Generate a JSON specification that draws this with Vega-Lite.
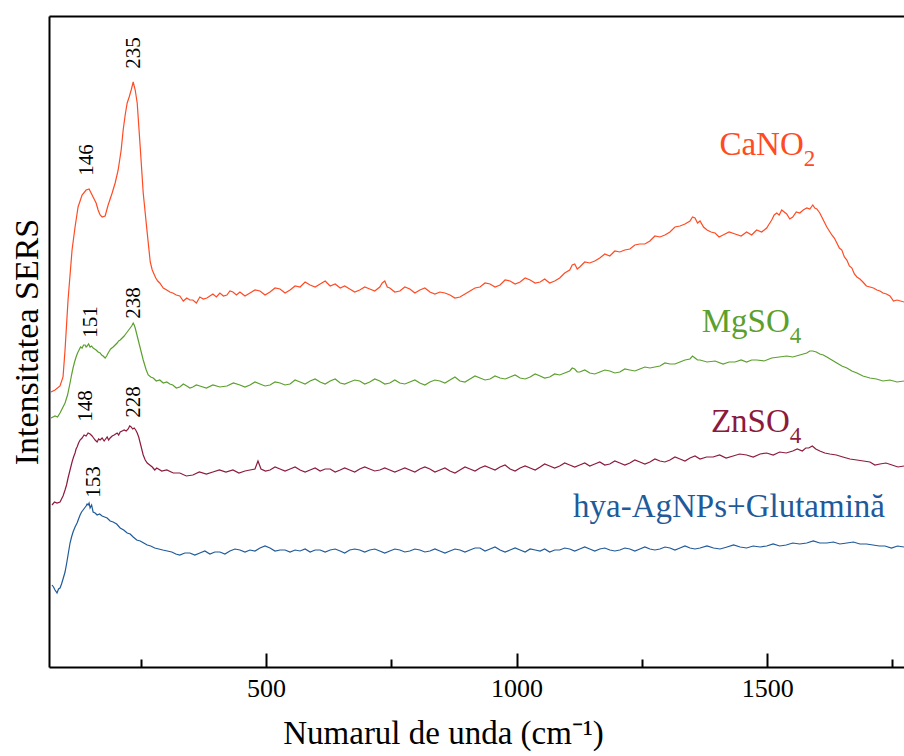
{
"$schema": "https://vega.github.io/schema/vega-lite/v6.json",
"autosize": {"type": "none"},
"padding": {"left": 49, "top": 16, "right": 0, "bottom": 89},
"width": 855,
"height": 651,
"config": {"view": {"stroke": null}, "font": "Liberation Serif", "text": {"font": "Liberation Serif"}, "axis": {"labelFont": "Liberation Serif", "titleFont": "Liberation Serif"}},
"datasets": {
"ca": [{"x":71,"y":275},{"x":79,"y":277},{"x":89,"y":281},{"x":95,"y":290},{"x":99,"y":317},{"x":105,"y":367},{"x":113,"y":417},{"x":119,"y":440},{"x":125,"y":460},{"x":133,"y":472},{"x":141,"y":477},{"x":147,"y":478},{"x":155,"y":470},{"x":161,"y":464},{"x":165,"y":457},{"x":169,"y":452},{"x":173,"y":450},{"x":179,"y":451},{"x":185,"y":462},{"x":193,"y":474},{"x":199,"y":484},{"x":205,"y":497},{"x":211,"y":517},{"x":215,"y":537},{"x":219,"y":552},{"x":223,"y":564},{"x":227,"y":570},{"x":231,"y":577},{"x":235,"y":585},{"x":239,"y":577},{"x":243,"y":564},{"x":249,"y":520},{"x":255,"y":474},{"x":263,"y":434},{"x":269,"y":405},{"x":273,"y":397},{"x":280,"y":389},{"x":284,"y":386},{"x":288,"y":384},{"x":295,"y":379},{"x":302,"y":377},{"x":308,"y":375},{"x":314,"y":374},{"x":321,"y":372},{"x":328,"y":371},{"x":335,"y":366},{"x":342,"y":369},{"x":348,"y":367},{"x":354,"y":367},{"x":361,"y":364},{"x":368,"y":370},{"x":375,"y":368},{"x":382,"y":369},{"x":388,"y":371},{"x":394,"y":373},{"x":401,"y":370},{"x":408,"y":374},{"x":415,"y":371},{"x":422,"y":372},{"x":428,"y":376},{"x":434,"y":375},{"x":441,"y":372},{"x":448,"y":375},{"x":458,"y":371},{"x":468,"y":374},{"x":478,"y":377},{"x":488,"y":376},{"x":498,"y":372},{"x":508,"y":375},{"x":518,"y":379},{"x":528,"y":378},{"x":538,"y":374},{"x":548,"y":377},{"x":558,"y":381},{"x":568,"y":380},{"x":578,"y":385},{"x":588,"y":382},{"x":598,"y":380},{"x":608,"y":383},{"x":618,"y":386},{"x":628,"y":381},{"x":638,"y":383},{"x":648,"y":379},{"x":657,"y":381},{"x":667,"y":378},{"x":677,"y":375},{"x":687,"y":377},{"x":697,"y":380},{"x":707,"y":378},{"x":717,"y":376},{"x":727,"y":380},{"x":732,"y":384},{"x":737,"y":386},{"x":742,"y":380},{"x":747,"y":379},{"x":757,"y":375},{"x":767,"y":376},{"x":777,"y":380},{"x":787,"y":378},{"x":797,"y":374},{"x":807,"y":377},{"x":817,"y":379},{"x":827,"y":375},{"x":837,"y":373},{"x":847,"y":375},{"x":857,"y":374},{"x":867,"y":372},{"x":877,"y":369},{"x":887,"y":370},{"x":897,"y":373},{"x":907,"y":376},{"x":917,"y":379},{"x":927,"y":380},{"x":937,"y":384},{"x":947,"y":383},{"x":957,"y":380},{"x":967,"y":382},{"x":977,"y":387},{"x":987,"y":386},{"x":997,"y":383},{"x":1007,"y":385},{"x":1017,"y":389},{"x":1027,"y":387},{"x":1037,"y":384},{"x":1047,"y":385},{"x":1056,"y":388},{"x":1066,"y":384},{"x":1076,"y":386},{"x":1086,"y":389},{"x":1096,"y":394},{"x":1106,"y":397},{"x":1111,"y":402},{"x":1116,"y":403},{"x":1121,"y":398},{"x":1126,"y":400},{"x":1136,"y":405},{"x":1146,"y":404},{"x":1156,"y":406},{"x":1166,"y":409},{"x":1176,"y":413},{"x":1186,"y":411},{"x":1196,"y":416},{"x":1206,"y":415},{"x":1216,"y":417},{"x":1226,"y":418},{"x":1236,"y":422},{"x":1246,"y":423},{"x":1256,"y":423},{"x":1266,"y":426},{"x":1276,"y":431},{"x":1286,"y":430},{"x":1296,"y":432},{"x":1306,"y":435},{"x":1316,"y":440},{"x":1326,"y":441},{"x":1336,"y":443},{"x":1346,"y":446},{"x":1351,"y":450},{"x":1356,"y":449},{"x":1361,"y":444},{"x":1366,"y":446},{"x":1373,"y":440},{"x":1380,"y":437},{"x":1388,"y":435},{"x":1396,"y":434},{"x":1404,"y":430},{"x":1412,"y":432},{"x":1424,"y":435},{"x":1436,"y":433},{"x":1448,"y":431},{"x":1459,"y":435},{"x":1469,"y":432},{"x":1479,"y":437},{"x":1489,"y":435},{"x":1499,"y":439},{"x":1504,"y":443},{"x":1509,"y":447},{"x":1514,"y":452},{"x":1519,"y":454},{"x":1524,"y":452},{"x":1529,"y":457},{"x":1534,"y":455},{"x":1539,"y":453},{"x":1545,"y":448},{"x":1551,"y":450},{"x":1558,"y":455},{"x":1565,"y":454},{"x":1572,"y":457},{"x":1579,"y":459},{"x":1585,"y":458},{"x":1591,"y":462},{"x":1595,"y":459},{"x":1599,"y":458},{"x":1605,"y":454},{"x":1612,"y":447},{"x":1619,"y":440},{"x":1624,"y":436},{"x":1629,"y":432},{"x":1634,"y":429},{"x":1639,"y":424},{"x":1644,"y":419},{"x":1649,"y":417},{"x":1654,"y":410},{"x":1659,"y":407},{"x":1664,"y":401},{"x":1669,"y":399},{"x":1674,"y":393},{"x":1679,"y":390},{"x":1685,"y":388},{"x":1691,"y":385},{"x":1698,"y":381},{"x":1705,"y":380},{"x":1712,"y":379},{"x":1719,"y":377},{"x":1725,"y":376},{"x":1731,"y":374},{"x":1738,"y":373},{"x":1745,"y":371},{"x":1752,"y":366},{"x":1759,"y":367},{"x":1766,"y":366},{"x":1773,"y":365}],
"mg": [{"x":71,"y":249},{"x":79,"y":251},{"x":84,"y":250},{"x":89,"y":254},{"x":94,"y":259},{"x":99,"y":264},{"x":104,"y":272},{"x":109,"y":284},{"x":112,"y":292},{"x":115,"y":299},{"x":118,"y":305},{"x":121,"y":310},{"x":124,"y":314},{"x":127,"y":317},{"x":130,"y":320},{"x":133,"y":319},{"x":136,"y":322},{"x":139,"y":322},{"x":141,"y":320},{"x":143,"y":321},{"x":146,"y":323},{"x":149,"y":320},{"x":152,"y":321},{"x":155,"y":319},{"x":158,"y":318},{"x":161,"y":317},{"x":165,"y":315},{"x":169,"y":314},{"x":172,"y":312},{"x":175,"y":311},{"x":179,"y":309},{"x":182,"y":311},{"x":185,"y":314},{"x":190,"y":318},{"x":195,"y":320},{"x":199,"y":322},{"x":203,"y":324},{"x":206,"y":326},{"x":209,"y":327},{"x":213,"y":329},{"x":217,"y":331},{"x":220,"y":333},{"x":223,"y":335},{"x":226,"y":337},{"x":229,"y":339},{"x":232,"y":341},{"x":235,"y":344},{"x":237,"y":342},{"x":239,"y":339},{"x":242,"y":333},{"x":245,"y":327},{"x":248,"y":321},{"x":251,"y":315},{"x":255,"y":307},{"x":258,"y":302},{"x":261,"y":297},{"x":265,"y":292},{"x":270,"y":290},{"x":275,"y":289},{"x":281,"y":286},{"x":288,"y":287},{"x":295,"y":284},{"x":302,"y":285},{"x":308,"y":283},{"x":314,"y":282},{"x":321,"y":279},{"x":328,"y":280},{"x":335,"y":283},{"x":342,"y":281},{"x":348,"y":279},{"x":354,"y":280},{"x":361,"y":282},{"x":368,"y":281},{"x":381,"y":279},{"x":394,"y":282},{"x":408,"y":280},{"x":422,"y":281},{"x":435,"y":284},{"x":448,"y":282},{"x":458,"y":280},{"x":468,"y":282},{"x":478,"y":285},{"x":488,"y":283},{"x":498,"y":281},{"x":508,"y":282},{"x":518,"y":285},{"x":528,"y":284},{"x":538,"y":282},{"x":548,"y":283},{"x":558,"y":287},{"x":568,"y":285},{"x":578,"y":283},{"x":588,"y":286},{"x":598,"y":288},{"x":608,"y":285},{"x":618,"y":283},{"x":628,"y":286},{"x":638,"y":288},{"x":648,"y":284},{"x":657,"y":283},{"x":667,"y":285},{"x":677,"y":287},{"x":687,"y":286},{"x":697,"y":283},{"x":707,"y":285},{"x":717,"y":288},{"x":727,"y":286},{"x":737,"y":283},{"x":747,"y":284},{"x":757,"y":287},{"x":767,"y":284},{"x":777,"y":283},{"x":787,"y":285},{"x":797,"y":287},{"x":807,"y":284},{"x":817,"y":282},{"x":827,"y":285},{"x":837,"y":287},{"x":847,"y":286},{"x":857,"y":284},{"x":867,"y":287},{"x":877,"y":290},{"x":887,"y":286},{"x":897,"y":285},{"x":907,"y":288},{"x":917,"y":291},{"x":927,"y":289},{"x":937,"y":287},{"x":947,"y":288},{"x":957,"y":291},{"x":967,"y":289},{"x":977,"y":288},{"x":987,"y":290},{"x":997,"y":292},{"x":1007,"y":289},{"x":1017,"y":288},{"x":1027,"y":290},{"x":1037,"y":293},{"x":1047,"y":291},{"x":1056,"y":289},{"x":1066,"y":290},{"x":1076,"y":293},{"x":1086,"y":292},{"x":1096,"y":294},{"x":1106,"y":296},{"x":1111,"y":299},{"x":1116,"y":298},{"x":1121,"y":295},{"x":1126,"y":295},{"x":1136,"y":297},{"x":1146,"y":294},{"x":1156,"y":293},{"x":1166,"y":295},{"x":1176,"y":297},{"x":1186,"y":296},{"x":1196,"y":294},{"x":1206,"y":295},{"x":1216,"y":298},{"x":1226,"y":297},{"x":1236,"y":296},{"x":1246,"y":298},{"x":1256,"y":300},{"x":1266,"y":299},{"x":1276,"y":300},{"x":1286,"y":301},{"x":1296,"y":304},{"x":1306,"y":303},{"x":1316,"y":303},{"x":1326,"y":305},{"x":1336,"y":307},{"x":1346,"y":308},{"x":1351,"y":311},{"x":1356,"y":309},{"x":1361,"y":307},{"x":1366,"y":307},{"x":1380,"y":305},{"x":1396,"y":306},{"x":1412,"y":303},{"x":1424,"y":305},{"x":1436,"y":305},{"x":1448,"y":307},{"x":1459,"y":305},{"x":1469,"y":307},{"x":1479,"y":307},{"x":1494,"y":306},{"x":1509,"y":309},{"x":1524,"y":310},{"x":1539,"y":311},{"x":1551,"y":310},{"x":1565,"y":312},{"x":1572,"y":313},{"x":1579,"y":314},{"x":1585,"y":316},{"x":1591,"y":316},{"x":1598,"y":315},{"x":1605,"y":313},{"x":1612,"y":312},{"x":1619,"y":310},{"x":1629,"y":307},{"x":1639,"y":304},{"x":1649,"y":301},{"x":1659,"y":299},{"x":1669,"y":296},{"x":1679,"y":294},{"x":1691,"y":291},{"x":1705,"y":289},{"x":1718,"y":288},{"x":1731,"y":286},{"x":1745,"y":287},{"x":1759,"y":285},{"x":1773,"y":286}],
"zn": [{"x":73,"y":162},{"x":78,"y":165},{"x":83,"y":164},{"x":89,"y":165},{"x":92,"y":168},{"x":95,"y":171},{"x":99,"y":177},{"x":102,"y":182},{"x":105,"y":189},{"x":109,"y":197},{"x":113,"y":205},{"x":116,"y":210},{"x":119,"y":214},{"x":121,"y":218},{"x":123,"y":220},{"x":126,"y":224},{"x":129,"y":227},{"x":133,"y":229},{"x":137,"y":232},{"x":141,"y":231},{"x":145,"y":234},{"x":149,"y":233},{"x":153,"y":231},{"x":156,"y":229},{"x":159,"y":227},{"x":163,"y":225},{"x":166,"y":228},{"x":169,"y":227},{"x":173,"y":229},{"x":177,"y":226},{"x":180,"y":228},{"x":183,"y":230},{"x":186,"y":227},{"x":189,"y":229},{"x":193,"y":231},{"x":197,"y":232},{"x":200,"y":233},{"x":203,"y":234},{"x":206,"y":232},{"x":209,"y":235},{"x":213,"y":236},{"x":217,"y":237},{"x":221,"y":236},{"x":225,"y":238},{"x":228,"y":241},{"x":231,"y":240},{"x":234,"y":238},{"x":237,"y":239},{"x":240,"y":237},{"x":243,"y":234},{"x":246,"y":230},{"x":249,"y":224},{"x":252,"y":218},{"x":255,"y":212},{"x":259,"y":207},{"x":263,"y":204},{"x":268,"y":202},{"x":273,"y":200},{"x":278,"y":197},{"x":282,"y":199},{"x":292,"y":196},{"x":302,"y":197},{"x":315,"y":194},{"x":328,"y":194},{"x":341,"y":191},{"x":354,"y":192},{"x":367,"y":195},{"x":381,"y":193},{"x":394,"y":195},{"x":407,"y":197},{"x":420,"y":195},{"x":434,"y":197},{"x":446,"y":194},{"x":458,"y":196},{"x":468,"y":197},{"x":478,"y":198},{"x":484,"y":206},{"x":490,"y":198},{"x":499,"y":196},{"x":508,"y":197},{"x":518,"y":200},{"x":528,"y":198},{"x":538,"y":196},{"x":548,"y":198},{"x":558,"y":200},{"x":568,"y":197},{"x":578,"y":195},{"x":588,"y":197},{"x":598,"y":199},{"x":608,"y":196},{"x":618,"y":198},{"x":628,"y":198},{"x":638,"y":195},{"x":648,"y":197},{"x":657,"y":199},{"x":667,"y":197},{"x":677,"y":195},{"x":687,"y":198},{"x":697,"y":200},{"x":707,"y":198},{"x":717,"y":196},{"x":727,"y":197},{"x":737,"y":199},{"x":747,"y":197},{"x":757,"y":195},{"x":767,"y":197},{"x":777,"y":199},{"x":787,"y":197},{"x":797,"y":195},{"x":807,"y":198},{"x":817,"y":200},{"x":827,"y":198},{"x":837,"y":195},{"x":847,"y":197},{"x":857,"y":199},{"x":867,"y":196},{"x":877,"y":194},{"x":887,"y":197},{"x":897,"y":200},{"x":907,"y":198},{"x":917,"y":196},{"x":927,"y":199},{"x":937,"y":201},{"x":947,"y":199},{"x":957,"y":197},{"x":967,"y":200},{"x":977,"y":202},{"x":987,"y":198},{"x":997,"y":196},{"x":1007,"y":199},{"x":1017,"y":201},{"x":1027,"y":199},{"x":1037,"y":197},{"x":1047,"y":200},{"x":1056,"y":203},{"x":1066,"y":201},{"x":1076,"y":199},{"x":1086,"y":201},{"x":1096,"y":204},{"x":1106,"y":202},{"x":1116,"y":200},{"x":1126,"y":202},{"x":1136,"y":204},{"x":1146,"y":201},{"x":1156,"y":203},{"x":1166,"y":205},{"x":1176,"y":202},{"x":1186,"y":203},{"x":1196,"y":206},{"x":1206,"y":204},{"x":1216,"y":202},{"x":1226,"y":204},{"x":1236,"y":207},{"x":1246,"y":205},{"x":1256,"y":203},{"x":1266,"y":205},{"x":1276,"y":208},{"x":1286,"y":206},{"x":1296,"y":205},{"x":1306,"y":207},{"x":1316,"y":210},{"x":1326,"y":208},{"x":1336,"y":206},{"x":1346,"y":209},{"x":1356,"y":211},{"x":1366,"y":208},{"x":1379,"y":210},{"x":1392,"y":210},{"x":1405,"y":212},{"x":1418,"y":209},{"x":1432,"y":211},{"x":1445,"y":213},{"x":1459,"y":212},{"x":1472,"y":210},{"x":1486,"y":213},{"x":1499,"y":214},{"x":1512,"y":212},{"x":1525,"y":215},{"x":1538,"y":214},{"x":1551,"y":216},{"x":1560,"y":218},{"x":1570,"y":216},{"x":1577,"y":219},{"x":1583,"y":219},{"x":1590,"y":221},{"x":1597,"y":218},{"x":1605,"y":216},{"x":1615,"y":214},{"x":1625,"y":213},{"x":1638,"y":212},{"x":1651,"y":210},{"x":1665,"y":208},{"x":1679,"y":207},{"x":1692,"y":206},{"x":1705,"y":205},{"x":1715,"y":202},{"x":1725,"y":203},{"x":1737,"y":204},{"x":1749,"y":202},{"x":1761,"y":200},{"x":1773,"y":201}],
"hy": [{"x":73,"y":82},{"x":76,"y":80},{"x":79,"y":77},{"x":83,"y":74},{"x":86,"y":78},{"x":89,"y":79},{"x":92,"y":83},{"x":95,"y":88},{"x":99,"y":95},{"x":102,"y":103},{"x":105,"y":112},{"x":109,"y":124},{"x":112,"y":130},{"x":115,"y":135},{"x":119,"y":140},{"x":123,"y":144},{"x":126,"y":148},{"x":129,"y":152},{"x":132,"y":155},{"x":135,"y":157},{"x":138,"y":159},{"x":141,"y":161},{"x":143,"y":163},{"x":145,"y":162},{"x":147,"y":164},{"x":149,"y":159},{"x":152,"y":162},{"x":155,"y":155},{"x":159,"y":154},{"x":163,"y":152},{"x":168,"y":153},{"x":173,"y":151},{"x":178,"y":150},{"x":183,"y":149},{"x":189,"y":146},{"x":195,"y":145},{"x":202,"y":143},{"x":209,"y":139},{"x":216,"y":137},{"x":223,"y":134},{"x":229,"y":133},{"x":235,"y":130},{"x":242,"y":127},{"x":249,"y":126},{"x":256,"y":124},{"x":263,"y":122},{"x":270,"y":121},{"x":278,"y":119},{"x":286,"y":118},{"x":294,"y":117},{"x":303,"y":116},{"x":312,"y":115},{"x":320,"y":113},{"x":328,"y":112},{"x":338,"y":114},{"x":348,"y":114},{"x":358,"y":112},{"x":368,"y":114},{"x":378,"y":116},{"x":388,"y":113},{"x":398,"y":115},{"x":408,"y":115},{"x":418,"y":113},{"x":428,"y":116},{"x":438,"y":118},{"x":448,"y":117},{"x":458,"y":115},{"x":468,"y":117},{"x":478,"y":116},{"x":488,"y":119},{"x":498,"y":121},{"x":508,"y":119},{"x":518,"y":116},{"x":528,"y":117},{"x":538,"y":117},{"x":548,"y":115},{"x":558,"y":117},{"x":568,"y":116},{"x":578,"y":118},{"x":588,"y":115},{"x":598,"y":117},{"x":608,"y":117},{"x":618,"y":115},{"x":628,"y":117},{"x":638,"y":118},{"x":648,"y":116},{"x":657,"y":114},{"x":667,"y":117},{"x":677,"y":118},{"x":687,"y":117},{"x":697,"y":115},{"x":707,"y":117},{"x":717,"y":118},{"x":727,"y":116},{"x":737,"y":114},{"x":747,"y":116},{"x":757,"y":118},{"x":767,"y":117},{"x":777,"y":115},{"x":787,"y":116},{"x":797,"y":118},{"x":807,"y":117},{"x":817,"y":115},{"x":827,"y":116},{"x":837,"y":118},{"x":847,"y":116},{"x":857,"y":114},{"x":867,"y":116},{"x":877,"y":118},{"x":887,"y":117},{"x":897,"y":115},{"x":907,"y":117},{"x":917,"y":119},{"x":927,"y":119},{"x":937,"y":116},{"x":947,"y":118},{"x":957,"y":120},{"x":967,"y":117},{"x":977,"y":115},{"x":987,"y":117},{"x":997,"y":119},{"x":1007,"y":117},{"x":1017,"y":115},{"x":1027,"y":118},{"x":1037,"y":117},{"x":1047,"y":116},{"x":1056,"y":118},{"x":1066,"y":115},{"x":1076,"y":117},{"x":1086,"y":117},{"x":1096,"y":119},{"x":1106,"y":118},{"x":1116,"y":116},{"x":1126,"y":118},{"x":1136,"y":120},{"x":1146,"y":118},{"x":1156,"y":116},{"x":1166,"y":118},{"x":1176,"y":119},{"x":1186,"y":117},{"x":1196,"y":116},{"x":1206,"y":117},{"x":1216,"y":119},{"x":1226,"y":118},{"x":1236,"y":116},{"x":1246,"y":118},{"x":1256,"y":120},{"x":1266,"y":118},{"x":1276,"y":117},{"x":1286,"y":118},{"x":1296,"y":120},{"x":1306,"y":119},{"x":1316,"y":117},{"x":1326,"y":119},{"x":1336,"y":121},{"x":1346,"y":119},{"x":1356,"y":118},{"x":1366,"y":119},{"x":1380,"y":121},{"x":1393,"y":119},{"x":1406,"y":118},{"x":1420,"y":120},{"x":1433,"y":122},{"x":1446,"y":120},{"x":1459,"y":119},{"x":1472,"y":121},{"x":1486,"y":120},{"x":1499,"y":121},{"x":1512,"y":123},{"x":1525,"y":121},{"x":1538,"y":122},{"x":1551,"y":124},{"x":1565,"y":123},{"x":1579,"y":124},{"x":1592,"y":126},{"x":1605,"y":124},{"x":1619,"y":124},{"x":1632,"y":125},{"x":1645,"y":123},{"x":1659,"y":124},{"x":1672,"y":125},{"x":1685,"y":123},{"x":1698,"y":123},{"x":1711,"y":122},{"x":1724,"y":121},{"x":1735,"y":121},{"x":1748,"y":119},{"x":1760,"y":121},{"x":1773,"y":120}],
"peaks": [{"x":142,"y":507,"t":"146"},{"x":237,"y":614,"t":"235"},{"x":150,"y":345,"t":"151"},{"x":237,"y":364,"t":"238"},{"x":141,"y":261,"t":"148"},{"x":237,"y":265,"t":"228"},{"x":157,"y":185,"t":"153"}],
"names": [{"x":1573,"y":512,"t":"CaNO","sub":"2","c":"CaNO2"},{"x":1545,"y":335,"t":"MgSO","sub":"4","c":"MgSO4"},{"x":1545,"y":235,"t":"ZnSO","sub":"4","c":"ZnSO4"},{"x":1735,"y":150,"t":"hya-AgNPs+Glutamină","sub":"","c":"hya"}]
},
"resolve": {"axis": {"x": "independent", "y": "independent"}},
"layer": [
{"data": {"name": "ca"}, "mark": {"type": "line", "color": "#FF4A23", "strokeWidth": 1.2},
 "encoding": {
  "x": {"field": "x", "type": "quantitative", "scale": {"domain": [67, 1773], "nice": false, "zero": false},
   "axis": {"orient": "bottom", "offset": -14, "values": [500, 1000, 1500], "format": "d", "grid": false, "domain": false, "tickColor": "black", "tickWidth": 2, "tickSize": 14, "labelFont": "Liberation Serif", "labelFontSize": 26, "labelColor": "black", "labelPadding": 8, "labelFlush": false, "labelOverlap": false, "title": "Numarul de unda (cm⁻¹)", "titleFont": "Liberation Serif", "titleFontSize": 33, "titleFontWeight": "normal", "titleColor": "black", "titleX": 394, "titleY": 90, "titleAlign": "center", "titleBaseline": "alphabetic"}},
  "y": {"field": "y", "type": "quantitative", "scale": {"domain": [0, 651], "nice": false, "zero": false},
   "axis": {"orient": "left", "grid": false, "domainColor": "black", "domainWidth": 2, "ticks": false, "labels": false, "title": "Intensitatea SERS", "titleFont": "Liberation Serif", "titleFontSize": 34, "titleFontWeight": "normal", "titleColor": "black", "titlePadding": 5}}
 }},
{"data": {"name": "mg"}, "mark": {"type": "line", "color": "#5BA02D", "strokeWidth": 1.2},
 "encoding": {
  "x": {"field": "x", "type": "quantitative", "axis": {"orient": "bottom", "offset": -8, "values": [250, 750, 1250, 1750], "grid": false, "domain": false, "labels": false, "title": null, "tickColor": "black", "tickWidth": 2, "tickSize": 8}},
  "y": {"field": "y", "type": "quantitative", "axis": null}
 }},
{"data": {"name": "zn"}, "mark": {"type": "line", "color": "#8C1A3C", "strokeWidth": 1.2},
 "encoding": {
  "x": {"field": "x", "type": "quantitative", "axis": {"orient": "top", "grid": false, "domain": true, "domainColor": "black", "domainWidth": 2, "ticks": false, "labels": false, "title": null}},
  "y": {"field": "y", "type": "quantitative", "axis": null}
 }},
{"data": {"name": "hy"}, "mark": {"type": "line", "color": "#1F5A9A", "strokeWidth": 1.2},
 "encoding": {
  "x": {"field": "x", "type": "quantitative", "axis": {"orient": "bottom", "grid": false, "domain": true, "domainColor": "black", "domainWidth": 2, "ticks": false, "labels": false, "title": null}},
  "y": {"field": "y", "type": "quantitative", "axis": null}
 }},
{"data": {"name": "peaks"}, "mark": {"type": "text", "angle": 270, "align": "center", "baseline": "middle", "font": "Liberation Serif", "fontSize": 21, "color": "black"},
 "encoding": {
  "x": {"field": "x", "type": "quantitative", "axis": null},
  "y": {"field": "y", "type": "quantitative", "axis": null},
  "text": {"field": "t"}
 }},
{"data": {"name": "names"}, "mark": {"type": "text", "align": "right", "baseline": "alphabetic", "font": "Liberation Serif", "fontSize": 33},
 "encoding": {
  "x": {"field": "x", "type": "quantitative", "axis": null},
  "y": {"field": "y", "type": "quantitative", "axis": null},
  "text": {"field": "t"},
  "color": {"field": "c", "type": "nominal", "legend": null, "scale": {"domain": ["CaNO2", "MgSO4", "ZnSO4", "hya"], "range": ["#FF4A23", "#5BA02D", "#8C1A3C", "#1F5A9A"]}}
 }},
{"data": {"name": "names"}, "mark": {"type": "text", "align": "left", "baseline": "alphabetic", "font": "Liberation Serif", "fontSize": 23, "dy": 11},
 "encoding": {
  "x": {"field": "x", "type": "quantitative", "axis": null},
  "y": {"field": "y", "type": "quantitative", "axis": null},
  "text": {"field": "sub"},
  "color": {"field": "c", "type": "nominal", "legend": null, "scale": {"domain": ["CaNO2", "MgSO4", "ZnSO4", "hya"], "range": ["#FF4A23", "#5BA02D", "#8C1A3C", "#1F5A9A"]}}
 }}
]
}
